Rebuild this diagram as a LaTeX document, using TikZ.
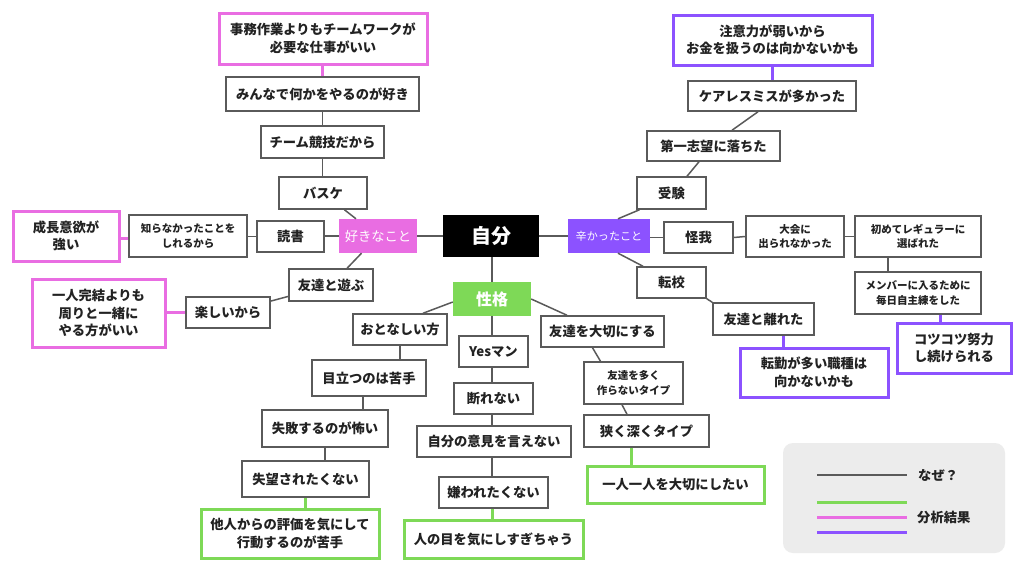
\documentclass[tikz,border=0pt]{standalone}
\usepackage{fontspec}
\setmainfont{Noto Sans CJK JP}
\usetikzlibrary{calc}
\definecolor{pk}{HTML}{E96DE2}
\definecolor{pu}{HTML}{8C52FF}
\definecolor{gr}{HTML}{7ED957}
\definecolor{ln}{HTML}{5A5A5A}
\definecolor{tx}{HTML}{222222}
\definecolor{lg}{HTML}{ECECEC}
\begin{document}
\begin{tikzpicture}[x=1pt,y=-1pt,
  base/.style={align=center, inner sep=0pt, text=tx, font=\bfseries\fontsize{13.3}{17.6}\selectfont},
  bx/.style={base, draw=ln, line width=1.5pt, fill=white},
  sm/.style={font=\bfseries\fontsize{10.5}{14.3}\selectfont},
  pkb/.style={base, draw=pk, line width=3pt, fill=white},
  pub/.style={base, draw=pu, line width=3pt, fill=white},
  grb/.style={base, draw=gr, line width=3pt, fill=white},
  wh/.style 2 args={minimum width=#1pt, minimum height=#2pt},
  conn/.style={draw=ln, line width=1.5pt},
  pkl/.style={draw=pk, line width=3pt},
  pul/.style={draw=pu, line width=3pt},
  grl/.style={draw=gr, line width=3pt}
]
\useasboundingbox (0,0) rectangle (1024,576);
\fill[white] (0,0) rectangle (1024,576);

% centre
\node[base, fill=black, text=white, wh={96}{42}, font=\bfseries\fontsize{20}{24}\selectfont] (jibun) at (491,236) {自分};
\node[base, fill=pk, text=white, wh={78}{34}, font=\mdseries\fontsize{13.3}{17.6}\selectfont] (suki) at (378,236) {好きなこと};
\node[base, fill=pu, text=white, wh={82}{34}, font=\mdseries\fontsize{11.1}{14}\selectfont] (tsurai) at (609,236) {辛かったこと};
\node[base, fill=gr, text=white, wh={78}{34}, font=\bfseries\fontsize{16}{20}\selectfont] (seikaku) at (492,299) {性格};

% 好きなこと branch
\node[pkb, wh={208}{51}] (jimu) at (323,38.5) {事務作業よりもチームワークが\\必要な仕事がいい};
\node[bx, wh={193}{34}] (minna) at (322.5,94) {みんなで何かをやるのが好き};
\node[bx, wh={123}{32}] (team) at (322.5,142) {チーム競技だから};
\node[bx, wh={88}{32}] (basuke) at (323,193) {バスケ};
\node[bx, wh={67}{31}] (dokusho) at (290.5,236.5) {読書};
\node[bx, sm, wh={118}{42}] (shiranai) at (188,236) {知らなかったことを\\しれるから};
\node[pkb, wh={106}{50}] (seicho) at (66,236) {成長意欲が\\強い};
\node[bx, wh={84}{32}] (asobu) at (331,285) {友達と遊ぶ};
\node[bx, wh={84}{31}] (tanoshii) at (228,312.5) {楽しいから};
\node[pkb, wh={133}{68}] (kanketsu) at (98.5,313) {一人完結よりも\\周りと一緒に\\やる方がいい};

% 辛かったこと branch
\node[bx, wh={69}{32}] (juken) at (671.5,193) {受験};
\node[bx, wh={133}{30}] (daiichi) at (713.5,146) {第一志望に落ちた};
\node[bx, wh={168}{30}] (careless) at (772,96) {ケアレスミスが多かった};
\node[pub, wh={199}{50}] (chui) at (772.5,40) {注意力が弱いから\\お金を扱うのは向かないかも};
\node[bx, wh={69}{31}] (kega) at (698.5,237.5) {怪我};
\node[bx, sm, wh={98}{41}] (taikai) at (795,236.5) {大会に\\出られなかった};
\node[bx, sm, wh={126}{41}] (hajimete) at (918,236.5) {初めてレギュラーに\\選ばれた};
\node[bx, sm, wh={126}{42}] (member) at (918,293) {メンバーに入るために\\毎日自主練をした};
\node[pub, wh={114}{50}] (kotsu) at (954,348) {コツコツ努力\\し続けられる};
\node[bx, wh={69}{31}] (tenko) at (671.5,282.5) {転校};
\node[bx, wh={101}{32}] (hanare) at (763.5,319) {友達と離れた};
\node[pub, wh={148}{49}] (tenkin) at (814,372.5) {転勤が多い職種は\\向かないかも};

% 性格 branch
\node[bx, wh={123}{31}] (tomo) at (602.5,331.5) {友達を大切にする};
\node[bx, sm, wh={99}{42}] (ooku) at (633.5,383) {友達を多く\\作らないタイプ};
\node[bx, wh={125}{32}] (semaku) at (646.5,431) {狭く深くタイプ};
\node[grb, wh={177}{37}] (hitori) at (675.5,484.5) {一人一人を大切にしたい};
\node[bx, wh={94}{31}] (otona) at (400,329.5) {おとなしい方};
\node[bx, wh={114}{36}] (medatsu) at (369,378) {目立つのは苦手};
\node[bx, wh={126}{37}] (shippai) at (325,428.5) {失敗するのが怖い};
\node[bx, wh={127}{36}] (shitsubou) at (305.5,479) {失望されたくない};
\node[grb, wh={178}{49}] (tanin) at (290,533.5) {他人からの評価を気にして\\行動するのが苦手};
\node[bx, wh={69}{31}] (yes) at (493.5,351.5) {Yesマン};
\node[bx, wh={79}{31}] (kotowa) at (493.5,398.5) {断れない};
\node[bx, wh={154}{31}] (iken) at (494,441.5) {自分の意見を言えない};
\node[bx, wh={109}{31}] (kiraware) at (493.5,492.5) {嫌われたくない};
\node[grb, wh={179}{38}] (hitonome) at (493.5,539) {人の目を気にしすぎちゃう};

% connectors
\draw[pkl] (jimu.south -| minna.north) -- (minna.north);
\draw[conn] (minna.south) -- (minna.south |- team.north);
\draw[conn] (team.south) -- (team.south |- basuke.north);
\draw[conn] (basuke) -- (suki);
\draw[conn] (suki.west) -- (dokusho.east |- suki.west);
\draw[conn] (dokusho.west) -- (shiranai.east |- dokusho.west);
\draw[pkl] ([yshift=-2pt]shiranai.west) -- ([yshift=-2pt]seicho.east);
\draw[conn] (suki) -- (asobu);
\draw[conn] (asobu) -- (tanoshii);
\draw[pkl] (tanoshii.west) -- (kanketsu.east |- tanoshii.west);
\draw[conn] (suki.east) -- (jibun.west);
\draw[conn] (jibun.east) -- (tsurai.west);
\draw[conn] (seikaku.north |- jibun.south) -- (seikaku.north);

\draw[conn] ([xshift=9pt]tsurai.north) -- ([xshift=-32pt]juken.south);
\draw[conn] ([xshift=15.5pt]juken.north) -- ([xshift=-14.5pt]daiichi.south);
\draw[conn] ([xshift=18.5pt]daiichi.north) -- ([xshift=-14pt]careless.south);
\draw[pul] (careless.north) -- (careless.north |- chui.south);
\draw[conn] ([yshift=-1.5pt]tsurai.east) -- (kega.west);
\draw[conn] (kega.east) -- (taikai.west);
\draw[conn] (taikai.east) -- (hajimete.west);
\draw[conn] ([xshift=-30pt]hajimete.south) -- ([xshift=-30pt]member.north);
\draw[pul] ([xshift=22pt]member.south) -- ([xshift=22pt]member.south |- kotsu.north);
\draw[conn] ([xshift=9pt]tsurai.south) -- ([xshift=-28.5pt]tenko.north);
\draw[conn] (tenko.south east) -- (hanare.north west);
\draw[pul] ([xshift=19.5pt]hanare.south) -- ([xshift=19.5pt]hanare.south |- tenkin.north);

\draw[conn] ([yshift=-3pt]seikaku.west) -- ([xshift=23pt]otona.north);
\draw[conn] (seikaku.east) -- ([xshift=-35.5pt]tomo.north);
\draw[conn] ([xshift=-10pt]tomo.south) -- ([xshift=-33pt]ooku.north);
\draw[conn] ([xshift=-11.5pt]ooku.south) -- ([xshift=-19.5pt]semaku.north);
\draw[grl] ([xshift=-15.5pt]semaku.south) -- ([xshift=-15.5pt]semaku.south |- hitori.north);
\draw[conn] (otona.south) -- (otona.south |- medatsu.north);
\draw[conn] ([xshift=-6pt]medatsu.south) -- ([xshift=-6pt]medatsu.south |- shippai.north);
\draw[conn] (shippai.south) -- (shippai.south |- shitsubou.north);
\draw[grl] (shitsubou.south) -- (shitsubou.south |- tanin.north);
\draw[conn] (seikaku.south) -- (seikaku.south |- yes.north);
\draw[conn] (yes.south -| seikaku.south) -- (kotowa.north -| seikaku.south);
\draw[conn] (kotowa.south -| seikaku.south) -- (iken.north -| seikaku.south);
\draw[conn] (iken.south -| seikaku.south) -- (kiraware.north -| seikaku.south);
\draw[grl] (kiraware.south -| seikaku.south) -- (hitonome.north -| seikaku.south);

% legend
\fill[lg, rounded corners=10pt] (783,443) rectangle (1005,553);
\coordinate (l1a) at (817,475); \coordinate (l1b) at (907,475);
\coordinate (l2a) at (817,502); \coordinate (l2b) at (907,502);
\coordinate (l3a) at (817,517); \coordinate (l3b) at (907,517);
\coordinate (l4a) at (817,532); \coordinate (l4b) at (907,532);
\draw[ln, line width=2pt] (l1a) -- (l1b);
\draw[gr, line width=3pt] (l2a) -- (l2b);
\draw[pk, line width=3pt] (l3a) -- (l3b);
\draw[pu, line width=3pt] (l4a) -- (l4b);
\node[base, anchor=west] (why) at (918,475) {なぜ？};
\node[base, anchor=west] (res) at (917,517) {分析結果};
\end{tikzpicture}
\end{document}
